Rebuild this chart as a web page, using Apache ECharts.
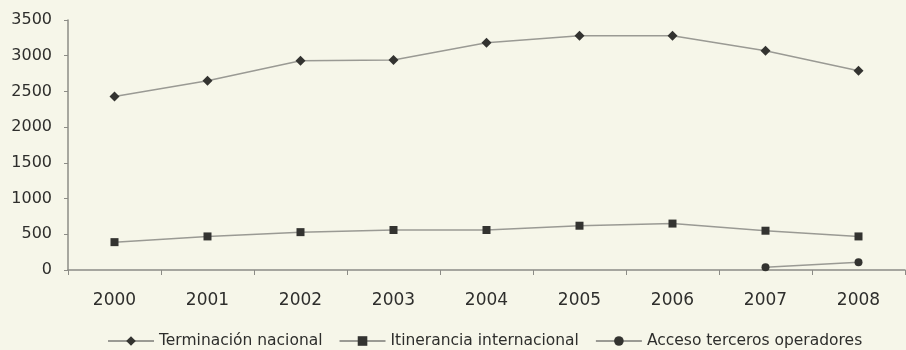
<!DOCTYPE html>
<html>
<head>
<meta charset="utf-8">
<script src="https://cdn.jsdelivr.net/npm/echarts@6/dist/echarts.min.js"></script>
<style>
  html, body { margin: 0; padding: 0; background: #f6f6e9; }
  #chart { width: 906px; height: 350px; }
</style>
</head>
<body>
<div id="chart"></div>
<script>
// Years on the horizontal axis
const years = ['2000', '2001', '2002', '2003', '2004', '2005', '2006', '2007', '2008'];

// Series values
const terminacionNacional = [2430, 2650, 2930, 2940, 3180, 3280, 3280, 3070, 2790];
const itineranciaInternacional = [390, 470, 530, 560, 560, 620, 650, 550, 470];
const accesoTerceros = [null, null, null, null, null, null, null, 40, 110];

// Vertical axis range
const yMin = 0;
const yMax = 3500;
const yStep = 500;

const fontFamily = '"DejaVu Sans", Verdana, sans-serif';
const textColor = '#2e2e2c';
const axisColor = '#8c8c86';
const lineColor = '#9a9a94';
const markColor = '#333330';

const chart = echarts.init(document.getElementById('chart'));

function lineSeries(name, data, symbol, size) {
  return {
    name: name,
    type: 'line',
    data: data,
    symbol: symbol,
    symbolSize: size,
    showAllSymbol: true,
    connectNulls: false,
    lineStyle: { color: lineColor, width: 1.5 },
    itemStyle: { color: markColor },
    emphasis: { disabled: true },
    animation: false
  };
}

chart.setOption({
  backgroundColor: '#f6f6e9',
  animation: false,
  grid: { left: 68, right: 1, top: 20, bottom: 80, containLabel: false },
  legend: {
    top: 328,
    left: 102,
    padding: [5, 5, 0, 5],
    itemWidth: 46,
    itemHeight: 12,
    itemGap: 16,
    textStyle: { fontFamily: fontFamily, fontSize: 15.5, color: textColor },
    data: ['Terminación nacional', 'Itinerancia internacional', 'Acceso terceros operadores']
  },
  xAxis: {
    type: 'category',
    data: years,
    boundaryGap: true,
    axisLine: { lineStyle: { color: axisColor, width: 1.5 } },
    axisTick: { show: true, alignWithLabel: false, length: 5, lineStyle: { color: axisColor } },
    axisLabel: { fontFamily: fontFamily, fontSize: 17, color: textColor, margin: 22 },
    splitLine: { show: false }
  },
  yAxis: {
    type: 'value',
    min: yMin,
    max: yMax,
    interval: yStep,
    axisLine: { show: true, lineStyle: { color: axisColor, width: 1.5 } },
    axisTick: { show: true, length: 4, lineStyle: { color: axisColor } },
    axisLabel: {
      fontFamily: fontFamily,
      fontSize: 16,
      color: textColor,
      margin: 16,
      formatter: function (v) { return String(v); }
    },
    splitLine: { show: false }
  },
  series: [
    lineSeries('Terminación nacional', terminacionNacional, 'diamond', 10),
    lineSeries('Itinerancia internacional', itineranciaInternacional, 'rect', 8),
    lineSeries('Acceso terceros operadores', accesoTerceros, 'circle', 8)
  ]
});
</script>
</body>
</html>
